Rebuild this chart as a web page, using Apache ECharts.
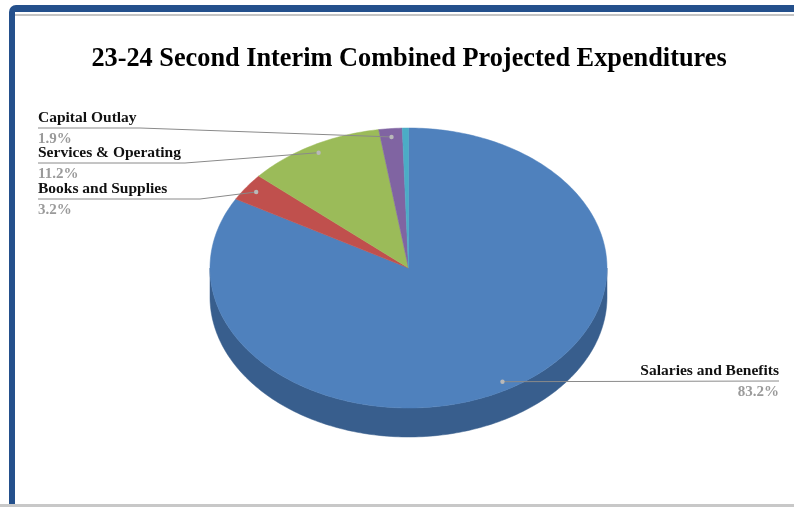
<!DOCTYPE html>
<html>
<head>
<meta charset="utf-8">
<script src="https://cdn.jsdelivr.net/npm/echarts@6/dist/echarts.min.js"></script>
<style>
  html, body { margin: 0; padding: 0; background: #fff; }
  #wrap { position: relative; width: 794px; height: 507px; overflow: hidden; background: #fff; }
  /* blue frame from the screenshot */
  #frame {
    position: absolute; left: 9px; top: 5px; width: 800px; height: 520px;
    border-top: 7px solid #24508c; border-left: 6px solid #24508c;
    border-top-left-radius: 7px; box-sizing: border-box;
  }
  #topLine { position: absolute; left: 15px; top: 14px; width: 779px; height: 2px; background: #c4c4c4; }
  #bottomLine { position: absolute; left: 0; top: 504px; width: 794px; height: 3px; background: #c8c8c8; }
  #chart { position: absolute; left: 0; top: 0; width: 794px; height: 507px; }
</style>
</head>
<body>
<div id="wrap">
  <div id="frame"></div>
  <div id="topLine"></div>
  <div id="bottomLine"></div>
  <div id="chart"></div>
</div>
<script>
// slices in clockwise order, starting at 12 o'clock
const categories = ['Salaries and Benefits', 'Books and Supplies', 'Services & Operating', 'Capital Outlay', 'Other']
const percentValues = [83.2, 3.2, 11.2, 1.9, 0.5]
const showLabel = [true, true, true, true, false]

const sliceColors = ['#4f81bd', '#c0504d', '#9bbb59', '#8064a2', '#4bacc6']
const sideColors = ['#385e8d', '#913a38', '#748d3d', '#5f4a7a', '#358399']

// label placement (pixels): underline y, text anchor x, where the leader line bends
const labelLayout = [
  { x: 779, y: 381, align: 'right', bend: null },
  { x: 38, y: 199, align: 'left', bend: 200 },
  { x: 38, y: 163, align: 'left', bend: 185 },
  { x: 38, y: 128, align: 'left', bend: 140 },
  null
]

const DEPTH = 29
const SERIF = "'Liberation Serif', 'Times New Roman', serif"

const total = percentValues.reduce((a, b) => a + b, 0)
let acc = 0
const sliceData = percentValues.map((v, i) => {
  const item = { name: categories[i], value: [acc, acc + v, v] }
  acc += v
  return item
})

const chart = echarts.init(document.getElementById('chart'), null, { renderer: 'canvas' })

function renderSlice(params, api) {
  const i = params.dataIndex
  const a0 = api.value(0) / total * Math.PI * 2
  const a1 = api.value(1) / total * Math.PI * 2
  const pt = (a, r) => api.coord([r * Math.sin(a), r * Math.cos(a)])
  const arc = (s, e) => {
    const n = Math.max(2, Math.ceil((e - s) / (Math.PI / 180)))
    const pts = []
    for (let k = 0; k <= n; k++) pts.push(pt(s + (e - s) * k / n, 1))
    return pts
  }
  const children = []

  // visible side wall (front half of the ellipse)
  const s = Math.max(a0, Math.PI / 2)
  const e = Math.min(a1, Math.PI * 1.5)
  if (s < e) {
    const upper = arc(s, e)
    const lower = upper.map(p => [p[0], p[1] + DEPTH]).reverse()
    children.push({
      type: 'polygon',
      z2: 1,
      shape: { points: upper.concat(lower) },
      style: { fill: sideColors[i], stroke: sideColors[i], lineWidth: 0.5 }
    })
  }

  // top face
  children.push({
    type: 'polygon',
    z2: 2,
    shape: { points: [api.coord([0, 0])].concat(arc(a0, a1)) },
    style: { fill: sliceColors[i], stroke: sliceColors[i], lineWidth: 0.5 }
  })

  const lay = labelLayout[i]
  if (showLabel[i] && lay) {
    const mid = (a0 + a1) / 2
    const dot = pt(mid, 0.94)
    const linePts = lay.align === 'right'
      ? [dot, [lay.x, lay.y]]
      : [[lay.x, lay.y], [lay.bend, lay.y], dot]
    children.push({
      type: 'polyline',
      z2: 10,
      shape: { points: linePts },
      style: { stroke: '#8a8a8a', lineWidth: 1, fill: null }
    })
    children.push({
      type: 'circle',
      z2: 11,
      shape: { cx: dot[0], cy: dot[1], r: 2.2 },
      style: { fill: '#b9b9b9' }
    })
    children.push({
      type: 'text',
      z2: 11,
      x: lay.x,
      y: lay.y - 2,
      style: {
        text: categories[i],
        fill: '#111',
        font: 'bold 15.5px ' + SERIF,
        align: lay.align,
        verticalAlign: 'bottom'
      }
    })
    children.push({
      type: 'text',
      z2: 11,
      x: lay.x,
      y: lay.y + 4,
      style: {
        text: api.value(2).toFixed(1) + '%',
        fill: '#9a9a9a',
        font: 'bold 15px ' + SERIF,
        align: lay.align,
        verticalAlign: 'top'
      }
    })
  }
  return { type: 'group', children }
}

chart.setOption({
  animation: false,
  title: {
    text: '23-24 Second Interim Combined Projected Expenditures',
    left: 404,
    textAlign: 'center',
    top: 41,
    textStyle: { fontFamily: SERIF, fontWeight: 'bold', fontSize: 26.3, color: '#000' }
  },
  grid: { left: 210, top: 128, width: 397, height: 280 },
  xAxis: { type: 'value', min: -1, max: 1, show: false },
  yAxis: { type: 'value', min: -1, max: 1, show: false },
  series: [{
    type: 'custom',
    coordinateSystem: 'cartesian2d',
    renderItem: renderSlice,
    clip: false,
    encode: { x: 0, y: 1 },
    data: sliceData
  }]
})

window.addEventListener('resize', () => chart.resize())
</script>
</body>
</html>
